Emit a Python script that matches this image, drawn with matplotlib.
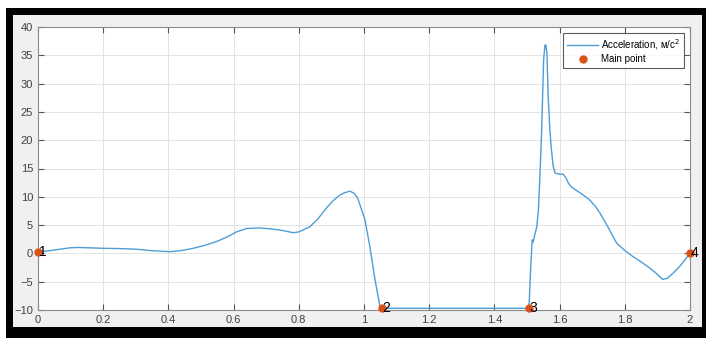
import matplotlib.pyplot as plt
from matplotlib.patches import Rectangle

plt.rcParams['font.family'] = ['Liberation Sans', 'DejaVu Sans']

# acceleration curve
t = [0.000, 0.025, 0.050, 0.075, 0.100, 0.125, 0.150, 0.175, 0.200, 0.250,
     0.300, 0.344, 0.405, 0.440, 0.476, 0.510, 0.548, 0.580, 0.609, 0.640,
     0.680, 0.720, 0.750, 0.783, 0.800, 0.834, 0.860, 0.886, 0.905, 0.926,
     0.940, 0.957, 0.970, 0.980, 0.990, 1.003, 1.018, 1.034, 1.049, 1.054,
     1.506, 1.511, 1.516, 1.519, 1.524, 1.530, 1.535, 1.540, 1.545, 1.551,
     1.555, 1.558, 1.561, 1.565, 1.570, 1.574, 1.580, 1.586, 1.600, 1.611,
     1.620, 1.627, 1.635, 1.647, 1.660, 1.673, 1.693, 1.710, 1.724, 1.750,
     1.775, 1.800, 1.826, 1.850, 1.877, 1.900, 1.916, 1.930, 1.948, 1.970,
     1.985, 2.000]
acc = [0.3, 0.4, 0.6, 0.8, 1.0, 1.05, 1.0, 0.95, 0.9, 0.85,
       0.75, 0.5, 0.3, 0.5, 0.9, 1.4, 2.1, 2.9, 3.8, 4.4,
       4.5, 4.3, 4.05, 3.65, 3.8, 4.7, 6.2, 8.1, 9.3, 10.3,
       10.7, 11.0, 10.6, 9.8, 8.2, 5.9, 1.2, -4.7, -9.4, -9.7,
       -9.7, -2.9, 2.4, 2.0, 3.3, 4.7, 7.7, 14.2, 21.8, 34.2,
       36.8, 36.8, 35.4, 27.7, 22.0, 18.9, 15.5, 14.2, 14.0, 14.0,
       13.3, 12.4, 11.8, 11.3, 10.8, 10.3, 9.4, 8.3, 7.1, 4.5,
       1.8, 0.5, -0.6, -1.5, -2.6, -3.7, -4.6, -4.4, -3.5, -2.2,
       -1.1, 0.0]

main_t = [0.0, 1.054, 1.506, 2.0]
main_acc = [0.3, -9.7, -9.7, 0.0]
main_labels = ['1', '2', '3', '4']

xticks = [0, 0.2, 0.4, 0.6, 0.8, 1, 1.2, 1.4, 1.6, 1.8, 2]
xtick_labels = ['0', '0.2', '0.4', '0.6', '0.8', '1', '1.2', '1.4', '1.6', '1.8', '2']
yticks = [-10, -5, 0, 5, 10, 15, 20, 25, 30, 35, 40]

W, H = 706, 338
fig = plt.figure(figsize=(W / 100, H / 100), dpi=100, facecolor='white')

# black frame and grey panel like the screenshot
fig.patches.append(Rectangle((6 / W, 0), 1 - 6 / W, 1 - 8 / H, transform=fig.transFigure,
                             facecolor='black', edgecolor='none', zorder=-2))
fig.patches.append(Rectangle((13 / W, 11 / H), (702 - 13) / W, (327 - 15) / H,
                             transform=fig.transFigure, facecolor='#f0f0f0',
                             edgecolor='none', zorder=-1))

ax = fig.add_axes([38 / W, 1 - 310 / H, (690 - 38) / W, (310 - 27) / H])
ax.set_facecolor('white')

ax.plot(t, acc, color='#4d9dd6', lw=1.0, label='Acceleration, м/с$^2$')
ax.plot(main_t, main_acc, 'o', color='#d95319', ms=5, label='Main point', clip_on=False, zorder=3)
for xp, yp, lab in zip(main_t, main_acc, main_labels):
    ax.text(xp + 0.002, yp, lab, fontsize=10, color='black', ha='left', va='center',
            clip_on=False, zorder=4)

ax.set_xlim(0, 2)
ax.set_ylim(-10, 40)
ax.set_xticks(xticks)
ax.set_xticklabels(xtick_labels)
ax.set_yticks(yticks)
ax.grid(True, color='#e3e3e3', lw=0.7)
ax.set_axisbelow(True)
ax.tick_params(direction='in', length=4, width=0.8, color='#555555', labelcolor='#404040',
               labelsize=8, top=True, right=True)
for s in ax.spines.values():
    s.set_color('#8a8a8a')
    s.set_linewidth(0.8)

leg = ax.legend(loc='upper right', fontsize=7, frameon=True, fancybox=False,
                edgecolor='#333333', borderaxespad=0.6, handlelength=3.2,
                handletextpad=0.3, borderpad=0.4, labelspacing=0.3)
leg.get_frame().set_linewidth(0.8)

fig.savefig('out.png', dpi=100)
